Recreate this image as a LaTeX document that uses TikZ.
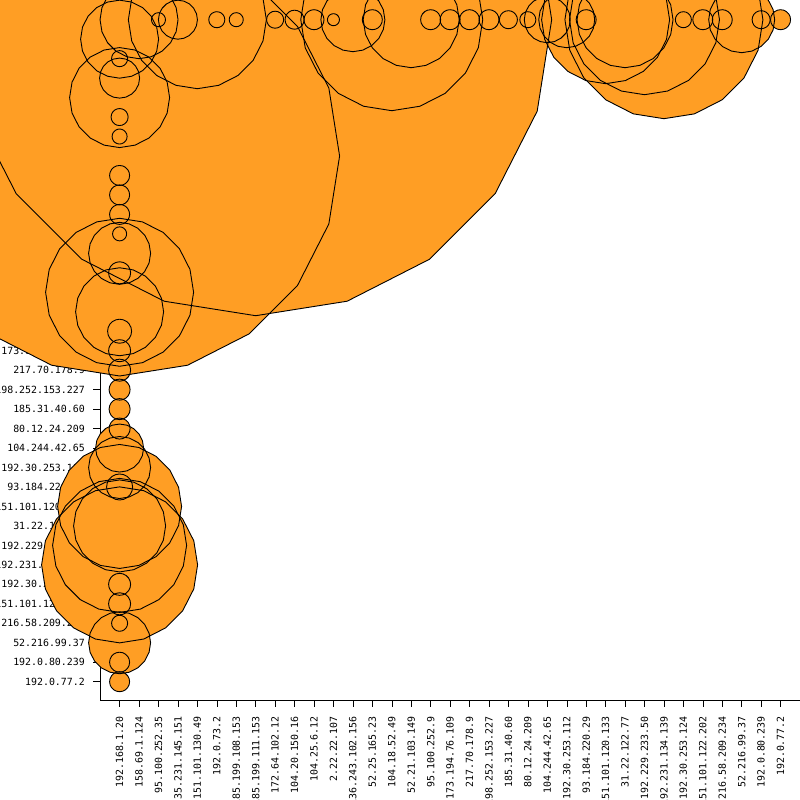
\documentclass[tikz,border=0pt]{standalone}
\usepackage{fontspec}
\setmonofont{DejaVu Sans Mono}
\definecolor{bubble}{RGB}{255,158,36}
\def\bubble[#1](#2,#3,#4){\path[#1] plot[samples=21,domain=0:360,variable=\t] ({#2+#4*cos(\t)},{#3+#4*sin(\t)}) -- cycle;}
\def\hostlist{192.168.1.20,158.69.1.124,95.100.252.35,35.231.145.151,151.101.130.49,192.0.73.2,185.199.108.153,185.199.111.153,172.64.102.12,104.20.150.16,104.25.6.12,2.22.22.107,136.243.102.156,52.25.165.23,104.18.52.49,52.21.103.149,95.100.252.9,173.194.76.109,217.70.178.9,198.252.153.227,185.31.40.60,80.12.24.209,104.244.42.65,192.30.253.112,93.184.220.29,151.101.120.133,31.22.122.77,192.229.233.50,192.231.134.139,192.30.253.124,151.101.122.202,216.58.209.234,52.216.99.37,192.0.80.239,192.0.77.2}
\def\rowsizes{1/39,2/7,3/19.5,4/69,5/8,6/7,7/296,8/8.5,9/9.5,10/10,11/6,12/32,13/10,14/91,15/48,16/10,17/10,18/10,19/10,20/9,21/8,22/23,23/28,24/10,25/64,26/48,27/75,28/99,29/8,30/10,31/10,32/33,33/9,34/10}
\def\colsizes{1/39,2/8,3/20,4/50,5/8.5,6/7.5,7/220,8/10,9/10,10/10,11/7,12/31,13/11,14/74,15/44,16/12,17/11,18/11,19/10.5,20/10.5,21/10.5,22/24,23/31,24/13,25/62,26/46,27/67,28/78,29/11,30/11,31/8,32/31,33/10,34/10}

\begin{document}
\begin{tikzpicture}[x=1pt,y=-1pt,
	lab/.style={font=\ttfamily\fontsize{9.9}{12}\selectfont, inner sep=0pt}]
		%%%%% START %%%%%
		\useasboundingbox (0,0) rectangle (800,800);
		
		% axes and labels
		\draw (100,0) -- (100,700) -- (800,700);
		\foreach \h [count=\i from 0] in \hostlist {
			\draw (93,{19.7+19.47*\i}) -- (100,{19.7+19.47*\i});
			\node[lab, anchor=east] (ylab\i) at (85,{19.7+19.47*\i}) {\h};
			\draw ({119.6+19.44*\i},700) -- ({119.6+19.44*\i},707);
			\node[lab, rotate=90, anchor=east] (xlab\i) at ({119.6+19.44*\i},716) {\h};
		}
		
		% bubbles
		\foreach \i/\r in \rowsizes {\bubble[fill=bubble]({119.6+19.44*\i},19.7,\r)}
		\foreach \i/\r in \colsizes {\bubble[fill=bubble](119.6,{19.7+19.47*\i},\r)}
		\foreach \i/\r in \rowsizes {\bubble[draw=black,line width=0.9pt]({119.6+19.44*\i},19.7,\r)}
		\foreach \i/\r in \colsizes {\bubble[draw=black,line width=0.9pt](119.6,{19.7+19.47*\i},\r)}
		%%%%% END %%%%%
	\end{tikzpicture}
\end{document}
